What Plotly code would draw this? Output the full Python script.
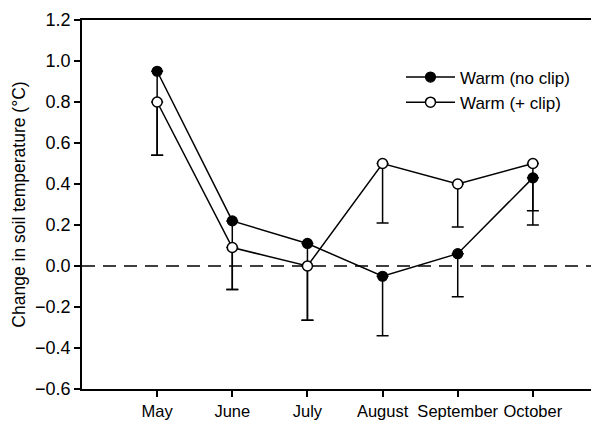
import plotly.graph_objects as go

months = ["May", "June", "July", "August", "September", "October"]
noclip = [0.95, 0.22, 0.11, -0.05, 0.06, 0.43]
noclip_err = [0.41, 0.335, 0.375, 0.29, 0.21, 0.16]
clip = [0.80, 0.09, 0.00, 0.50, 0.40, 0.50]
clip_err = [0.26, 0.205, 0.265, 0.29, 0.21, 0.30]
yticks = [-0.6, -0.4, -0.2, 0.0, 0.2, 0.4, 0.6, 0.8, 1.0, 1.2]

FONT = "Liberation Sans, Arial, sans-serif"

fig = go.Figure()
fig.add_trace(go.Scatter(
    x=months, y=noclip, name="Warm (no clip)", mode="lines+markers",
    line=dict(color="black", width=1.5),
    marker=dict(symbol="circle", size=10, color="black", line=dict(color="black", width=1.2)),
    error_y=dict(type="data", symmetric=False, array=[0] * len(noclip), arrayminus=noclip_err,
                 color="black", thickness=1.5, width=6),
))
fig.add_trace(go.Scatter(
    x=months, y=clip, name="Warm (+ clip)", mode="lines+markers",
    line=dict(color="black", width=1.5),
    marker=dict(symbol="circle", size=10, color="white", line=dict(color="black", width=1.5)),
    error_y=dict(type="data", symmetric=False, array=[0] * len(clip), arrayminus=clip_err,
                 color="black", thickness=1.5, width=6),
))

fig.add_shape(type="line", xref="paper", yref="y", x0=0, x1=1, y0=0, y1=0,
              line=dict(color="black", width=1.5, dash="13px,8px"), layer="below")

fig.update_layout(
    width=591, height=413,
    margin=dict(l=74, r=0, t=12, b=32, autoexpand=False),
    paper_bgcolor="white", plot_bgcolor="white",
    font=dict(family=FONT, size=17, color="black"),
    showlegend=True,
    legend=dict(x=0.617, y=0.893, xanchor="left", yanchor="top",
                bgcolor="rgba(0,0,0,0)", font=dict(size=17), tracegroupgap=0,
                itemwidth=49),
    xaxis=dict(type="category", categoryorder="array", categoryarray=months,
               range=[-1, 5.88], showline=True, linecolor="black", linewidth=1.5,
               mirror=True, ticks="outside", ticklen=6, tickwidth=1.5, tickcolor="black",
               showgrid=False, zeroline=False, tickfont=dict(size=16.5), tickangle=0,
               automargin=False, ticklabelstandoff=0),
    yaxis=dict(range=[-0.6, 1.2], tickvals=yticks, tickformat=".1f",
               showline=True, linecolor="black", linewidth=1.5,
               ticks="outside", ticklen=6, tickwidth=1.5, tickcolor="black",
               showgrid=False, zeroline=False, tickfont=dict(size=18), automargin=False,
               title=dict(text="Change in soil temperature (°C)", font=dict(size=17.5), standoff=5)),
)

fig.write_html("out.html")
